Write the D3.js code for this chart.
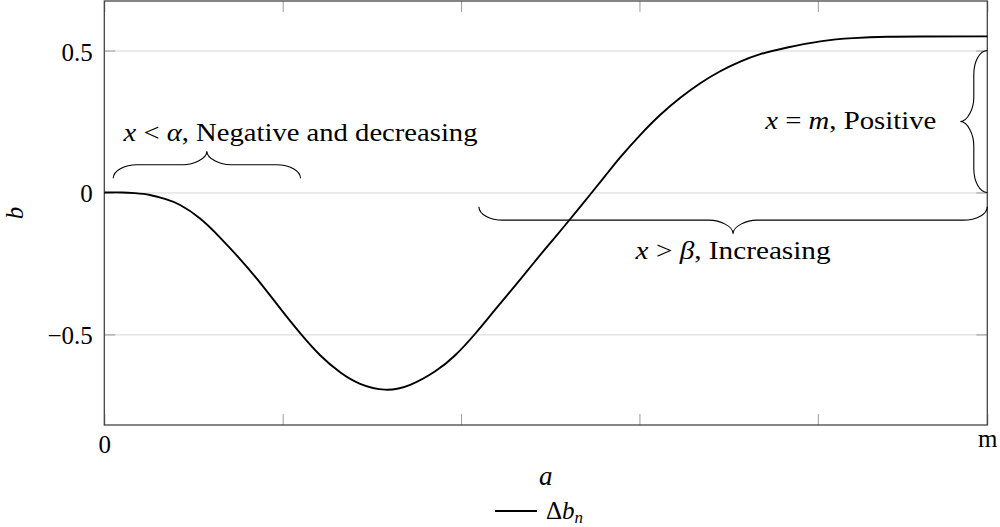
<!DOCTYPE html>
<html>
<head>
<meta charset="utf-8">
<script src="https://cdn.jsdelivr.net/npm/d3@7"></script>
<style>
  body { margin: 0; background: #fff; }
  svg { display: block; font-family: "Liberation Serif", "DejaVu Serif", serif; }
</style>
</head>
<body>
<div id="chart"></div>
<script>
// curve (a in axis units, m = right end)
const aValues = [0, 0.099, 0.172, 0.256, 0.340, 0.425, 0.537, 0.649, 0.761, 0.873,
                 0.985, 1.098, 1.210, 1.322, 1.434, 1.574, 1.715, 1.855, 1.967, 2.079,
                 2.191, 2.331, 2.427, 2.528, 2.612, 2.724, 2.808, 2.892, 3.005, 3.117,
                 3.229, 3.341, 3.453, 3.565, 3.677, 3.829, 4.014, 4.199, 4.390, 4.575,
                 4.95];
const bValues = [0, 0, -0.0025, -0.0088, -0.0229, -0.0441, -0.0918, -0.1588, -0.2347, -0.3177,
                 -0.4077, -0.4959, -0.5736, -0.6336, -0.6742, -0.6947, -0.6777, -0.6301, -0.5736, -0.4977,
                 -0.4130, -0.3071, -0.2330, -0.1571, -0.0935, -0.0071, 0.0582, 0.1235, 0.2030, 0.2736,
                 0.3336, 0.3848, 0.4271, 0.4606, 0.4871, 0.5108, 0.5323, 0.5436, 0.5485, 0.5496,
                 0.55];
const aEnd = 4.95;               // the "m" end of the a axis
const yTickValues = [-0.5, 0, 0.5];
const xTickValues = [0, 1, 2, 3, 4, aEnd];
const xTickNames = {0: "0"};
xTickNames[aEnd] = "m";

// regions marked with braces: [from, to] in data units
const regions = [
  {from: [0.05, 0.05], to: [1.1, 0.05], side: -1, parts: ["x", " < ", "α", ", Negative and decreasing"]},
  {from: [aEnd, 0.5], to: [aEnd, 0], side: 1, parts: ["x", " = ", "m", ", Positive"]},
  {from: [2.1, -0.05], to: [aEnd, -0.05], side: 1, parts: ["x", " > ", "β", ", Increasing"]}
];

var width = 1000, height = 527;
var margin = {top: 1, right: 12.7, bottom: 102, left: 104.3};
var serif = '"Liberation Serif", "DejaVu Serif", serif';

var svg = d3.select("#chart").append("svg")
    .attr("width", width)
    .attr("height", height);

var data = aValues.map(function (a, i) { return {a: a, b: bValues[i]}; });

// pgfplots style: 10% extra room above and below the data
var ext = d3.extent(bValues), pad = (ext[1] - ext[0]) * 0.1;

var x = d3.scaleLinear()
    .domain([0, aEnd])
    .range([margin.left, width - margin.right]);

var y = d3.scaleLinear()
    .domain([ext[0] - pad, ext[1] + pad])
    .range([height - margin.bottom, margin.top]);

var x0 = x.range()[0], x1 = x.range()[1], y0 = y.range()[1], y1 = y.range()[0];

// grid
svg.append("g")
    .attr("transform", "translate(" + x0 + ",0)")
    .call(d3.axisLeft(y).tickValues(yTickValues).tickSize(-(x1 - x0)).tickFormat(""))
    .call(function (g) { g.select(".domain").remove(); })
    .selectAll("line").attr("stroke", "#d6d6d6").attr("stroke-width", 1);

// y ticks, both sides, inward
var gY = svg.append("g")
    .attr("transform", "translate(" + x0 + ",0)")
    .call(d3.axisLeft(y).tickValues(yTickValues).tickSize(-11).tickPadding(11.5)
        .tickFormat(d3.format(".1~f")))
    .attr("font-family", serif);
gY.select(".domain").remove();
gY.selectAll("line").attr("stroke", "#9a9a9a");
gY.selectAll("text").attr("font-size", 25).attr("dy", "0.38em").attr("fill", "#000");

var gYR = svg.append("g")
    .attr("transform", "translate(" + x1 + ",0)")
    .call(d3.axisRight(y).tickValues(yTickValues).tickSize(-11).tickFormat(""));
gYR.select(".domain").remove();
gYR.selectAll("line").attr("stroke", "#9a9a9a");

// x ticks, bottom and top, inward
var gX = svg.append("g")
    .attr("transform", "translate(0," + y1 + ")")
    .call(d3.axisBottom(x).tickValues(xTickValues).tickSize(-11).tickPadding(10.5)
        .tickFormat(function (d) { return xTickNames[d] || ""; }))
    .attr("font-family", serif);
gX.select(".domain").remove();
gX.selectAll("line").attr("stroke", "#9a9a9a");
gX.selectAll("text").attr("font-size", 25).attr("fill", "#000")
    .attr("dy", function (d) { return d === aEnd ? "0.45em" : "0.71em"; });

var gXT = svg.append("g")
    .attr("transform", "translate(0," + y0 + ")")
    .call(d3.axisTop(x).tickValues(xTickValues).tickSize(-11).tickFormat(""));
gXT.select(".domain").remove();
gXT.selectAll("line").attr("stroke", "#9a9a9a");

// frame
svg.append("rect")
    .attr("x", x0).attr("y", y0)
    .attr("width", x1 - x0).attr("height", y1 - y0)
    .attr("fill", "none")
    .attr("stroke", "#444")
    .attr("stroke-width", 1.3);

// the curve
var line = d3.line()
    .x(function (d) { return x(d.a); })
    .y(function (d) { return y(d.b); })
    .curve(d3.curveNatural);

svg.append("path")
    .datum(data)
    .attr("d", line)
    .attr("fill", "none")
    .attr("stroke", "#000")
    .attr("stroke-width", 1.9);

// tikz-like curly brace between two pixel points
function bracePath(p, q, amp, side) {
    var dx = q[0] - p[0], dy = q[1] - p[1], L = Math.hypot(dx, dy);
    var ux = dx / L, uy = dy / L, nx = -uy * side, ny = ux * side;
    var h = amp / 2, s = 24, m = L / 2;
    function pt(t, v) { return (p[0] + ux * t + nx * v).toFixed(2) + "," + (p[1] + uy * t + ny * v).toFixed(2); }
    return "M" + pt(0, 0) +
        "C" + pt(0, h * 0.55) + " " + pt(s * 0.45, h) + " " + pt(s, h) +
        "L" + pt(m - s, h) +
        "C" + pt(m - s * 0.55, h) + " " + pt(m, h * 1.45) + " " + pt(m, amp) +
        "C" + pt(m, h * 1.45) + " " + pt(m + s * 0.55, h) + " " + pt(m + s, h) +
        "L" + pt(L - s, h) +
        "C" + pt(L - s * 0.45, h) + " " + pt(L, h * 0.55) + " " + pt(L, 0);
}

var amp = 27;
var labelPlace = [
    function (p, q) { return {x: q[0], y: p[1] - amp - 10, anchor: "middle", len: 354}; },
    function (p, q) { return {x: p[0] - amp - 24, y: (p[1] + q[1]) / 2 + 8, anchor: "end", len: 171}; },
    function (p, q) { return {x: (p[0] + q[0]) / 2, y: p[1] + amp + 25, anchor: "middle", len: 195}; }
];

regions.forEach(function (r, i) {
    var p = [x(r.from[0]), y(r.from[1])], q = [x(r.to[0]), y(r.to[1])];
    svg.append("path")
        .attr("d", bracePath(p, q, amp, r.side))
        .attr("fill", "none")
        .attr("stroke", "#000")
        .attr("stroke-width", 1.1);
    var lp = labelPlace[i](p, q);
    var t = svg.append("text")
        .attr("x", lp.x).attr("y", lp.y)
        .attr("text-anchor", lp.anchor)
        .attr("font-size", 25)
        .attr("textLength", lp.len)
        .attr("lengthAdjust", "spacingAndGlyphs")
        .style("white-space", "pre");
    r.parts.forEach(function (s, k) {
        t.append("tspan").attr("font-style", k % 2 === 0 && k < 3 ? "italic" : null).text(s);
    });
});

// axis labels
svg.append("text")
    .attr("x", (x0 + x1) / 2).attr("y", 485)
    .attr("text-anchor", "middle")
    .attr("font-size", 27).attr("font-style", "italic")
    .text("a");

svg.append("text")
    .attr("transform", "translate(23," + (y0 + y1) / 2 + ") rotate(-90)")
    .attr("text-anchor", "middle")
    .attr("font-size", 25).attr("font-style", "italic")
    .text("b");

// legend
svg.append("line")
    .attr("x1", 495).attr("x2", 537)
    .attr("y1", 511).attr("y2", 511)
    .attr("stroke", "#000").attr("stroke-width", 1.9);

var lg = svg.append("text")
    .attr("x", 546).attr("y", 519)
    .attr("font-size", 25);
lg.append("tspan").text("Δ");
lg.append("tspan").attr("font-style", "italic").text("b");
lg.append("tspan").attr("font-style", "italic").attr("font-size", 17).attr("dy", 3.5).text("n");
</script>
</body>
</html>
